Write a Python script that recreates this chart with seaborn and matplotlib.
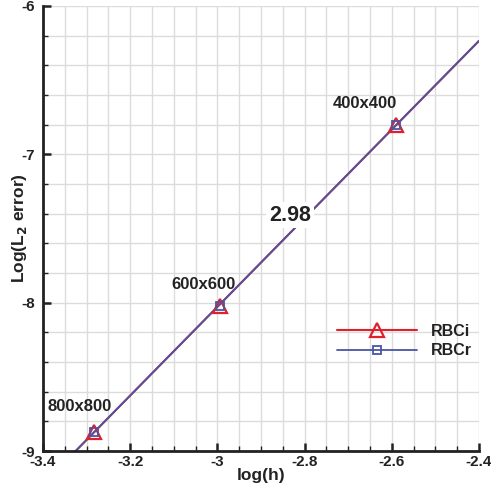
import numpy as np
import matplotlib
matplotlib.use("Agg")
import matplotlib.pyplot as plt
from matplotlib.lines import Line2D
from matplotlib.ticker import MultipleLocator, FormatStrFormatter
import seaborn as sns

# data
grids = ["800x800", "600x600", "400x400"]
log_h = [-3.283, -2.995, -2.59]
log_err_i = [-8.87, -8.02, -6.80]
log_err_r = [-8.87, -8.02, -6.80]
slope_label = "2.98"

sns.set_style("white")
plt.rcParams['font.family'] = ['Liberation Sans', 'DejaVu Sans']
plt.rcParams['font.weight'] = 'bold'

red = "#e0202a"
blue = "#4a55a6"
dark = "#222222"

fig = plt.figure(figsize=(4.91, 4.86), dpi=100)
ax = fig.add_axes([0.0876, 0.072, 0.888, 0.9157])

# fitted lines across the whole axis range
xlim = (-3.4, -2.4)
fit_x = np.array(xlim)
ci = np.polyfit(log_h, log_err_i, 1)
cr = np.polyfit(log_h, log_err_r, 1)

sns.lineplot(x=fit_x, y=np.polyval(ci, fit_x), color=red, lw=1.5, ax=ax)
sns.lineplot(x=fit_x, y=np.polyval(cr, fit_x), color=blue, lw=1.3, ax=ax)
ax.plot(log_h, log_err_i, ls="none", marker="^", ms=10, mfc="none", mec=red, mew=1.6)
ax.plot(log_h, log_err_r, ls="none", marker="s", ms=5.5, mfc="none", mec=blue, mew=1.3)

ax.set_xlim(*xlim)
ax.set_ylim(-9, -6)
ax.xaxis.set_major_locator(MultipleLocator(0.2))
ax.xaxis.set_minor_locator(MultipleLocator(0.05))
ax.yaxis.set_major_locator(MultipleLocator(1))
ax.yaxis.set_minor_locator(MultipleLocator(0.2))
ax.xaxis.set_major_formatter(FormatStrFormatter('%g'))
ax.yaxis.set_major_formatter(FormatStrFormatter('%g'))
ax.grid(True, which="both", color="#dcdcdc", lw=1)
ax.set_axisbelow(True)

for s in ["top", "right"]:
    ax.spines[s].set_visible(False)
for s in ["left", "bottom"]:
    ax.spines[s].set_color(dark)
    ax.spines[s].set_linewidth(2)
ax.tick_params(which="major", direction="in", length=6, width=1.8, color=dark,
               labelsize=11, labelcolor=dark)
ax.tick_params(axis="x", which="major", pad=3)
ax.tick_params(axis="y", which="major", pad=6)
ax.tick_params(which="minor", direction="in", length=3.5, width=1, color=dark)
ax.tick_params(axis="both", which="both", bottom=True, left=True)

ax.set_xlabel("log(h)", fontsize=12.5, fontweight="bold", labelpad=-1, color=dark)
ax.set_ylabel("Log(L$_\\mathbf{2}$ error)", fontsize=12.5, fontweight="bold", labelpad=-6, color=dark)

# point labels
label_pos = [(-3.315, -8.70), (-3.033, -7.88), (-2.661, -6.66)]
for txt, (tx, ty) in zip(grids, label_pos):
    ax.text(tx, ty, txt, fontsize=12, fontweight="bold", ha="center", va="center", color=dark)

ax.text(-2.833, -7.41, slope_label, fontsize=15.5, fontweight="bold", ha="center", va="center",
        color=dark, bbox=dict(facecolor="white", edgecolor="none", pad=2))

handles = [
    Line2D([], [], color=red, lw=1.5, marker="^", ms=10, mfc="none", mec=red, mew=1.6),
    Line2D([], [], color=blue, lw=1.3, marker="s", ms=5.5, mfc="none", mec=blue, mew=1.3),
]
ax.legend(handles, ["RBCi", "RBCr"], loc="center left", bbox_to_anchor=(0.674, 0.247),
          frameon=False, prop=dict(size=11.5, weight="bold"), handlelength=5,
          labelspacing=0.3, handletextpad=0.9, borderpad=0, borderaxespad=0,
          labelcolor=dark)

fig.canvas.draw()
for lab in ax.xaxis.get_majorticklabels() + ax.yaxis.get_majorticklabels():
    lab.set_fontweight("bold")

fig.savefig("out.png", dpi=100)
